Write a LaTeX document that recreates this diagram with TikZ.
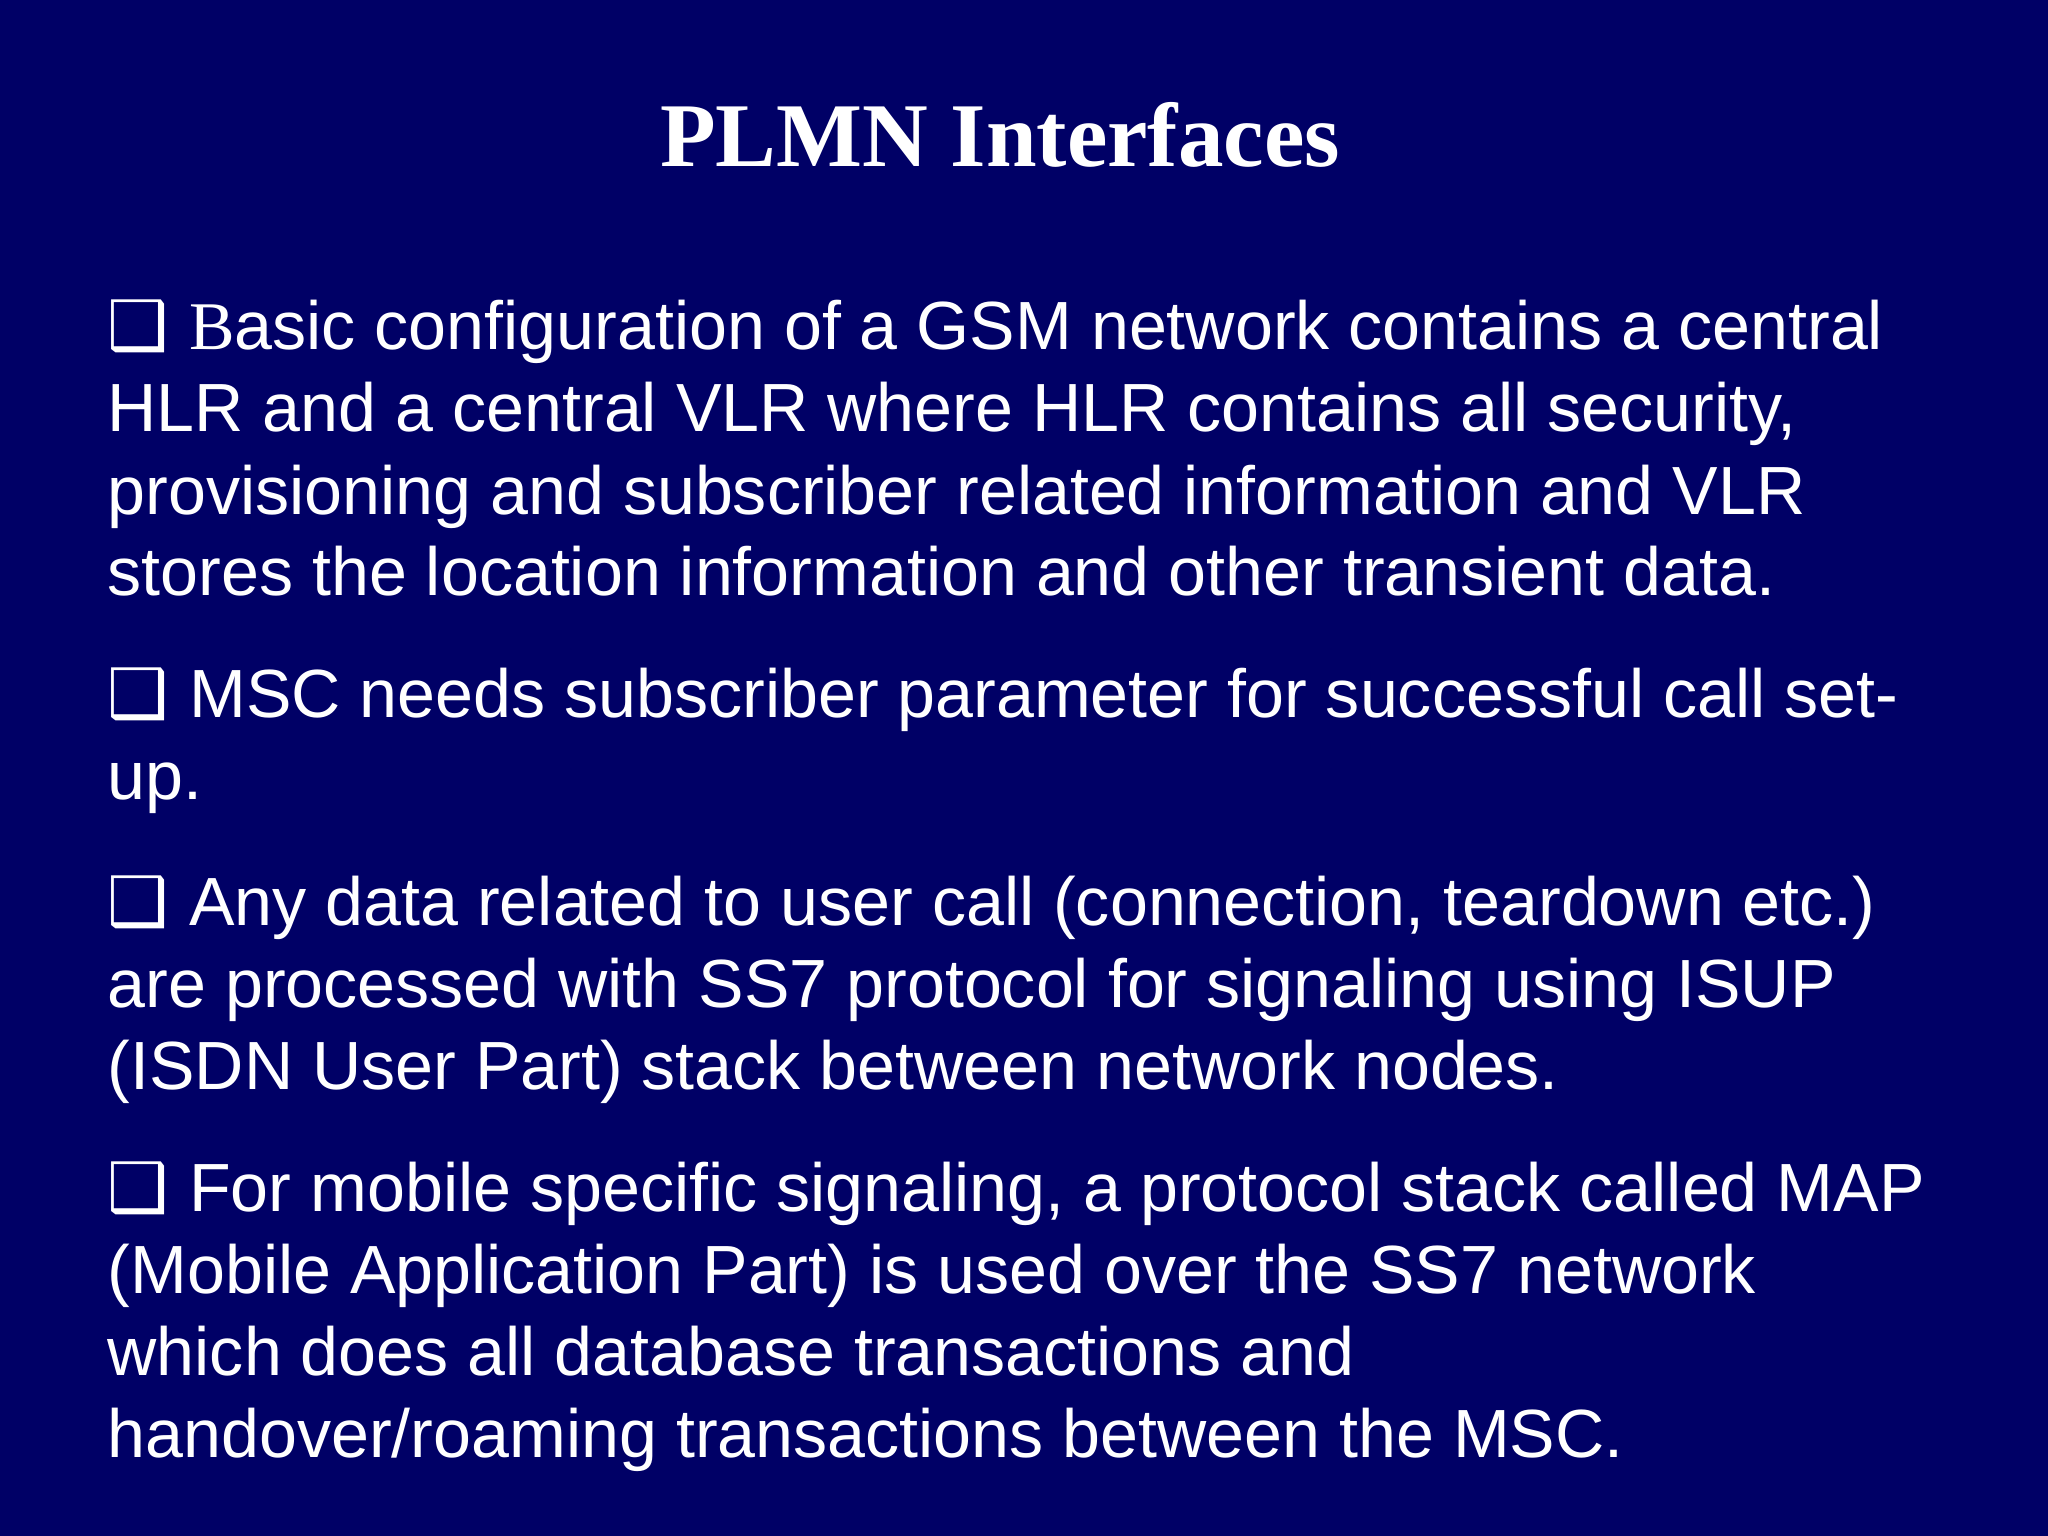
\documentclass[tikz,border=0pt]{standalone}
\usepackage{fontspec}
\setmainfont{Liberation Sans}
\newfontfamily\titlefont{Liberation Serif}
\newfontfamily\symfont{DejaVu Sans}
\definecolor{bg}{RGB}{0,0,102}
\begin{document}
\begin{tikzpicture}
\fill[bg] (0,0) rectangle (20.48,-15.36);
\useasboundingbox (0,0) rectangle (20.48,-15.36);
\tikzset{ln/.style={anchor=base west,inner sep=0pt,text=white,font=\fontsize{19.4}{22}\selectfont}}
\newcommand{\bx}{{\symfont ❑}\hspace{0.3em}}
\node[anchor=base,text=white,font=\titlefont\bfseries\fontsize{25.9}{30}\selectfont] (title) at (10.0,-1.67) {PLMN Interfaces};
% paragraph 1
\node[ln] (a1) at (1.07,-3.50) {\bx{\titlefont B}asic configuration of a GSM network contains a central};
\node[ln] (a2) at (1.07,-4.32) {HLR and a central VLR where HLR contains all security,};
\node[ln] (a3) at (1.07,-5.14) {provisioning and subscriber related information and VLR};
\node[ln] (a4) at (1.07,-5.96) {stores the location information and other transient data.};
% paragraph 2
\node[ln] (b1) at (1.07,-7.18) {\bx MSC needs subscriber parameter for successful call set-};
\node[ln] (b2) at (1.07,-8.00) {up.};
% paragraph 3
\node[ln] (c1) at (1.07,-9.25) {\bx Any data related to user call (connection, teardown etc.)};
\node[ln] (c2) at (1.07,-10.07) {are processed with SS7 protocol for signaling using ISUP};
\node[ln] (c3) at (1.07,-10.89) {(ISDN User Part) stack between network nodes.};
% paragraph 4
\node[ln] (d1) at (1.07,-12.11) {\bx For mobile specific signaling, a protocol stack called MAP};
\node[ln] (d2) at (1.07,-12.93) {(Mobile Application Part) is used over the SS7 network};
\node[ln] (d3) at (1.07,-13.75) {which does all database transactions and};
\node[ln] (d4) at (1.07,-14.57) {handover/roaming transactions between the MSC.};
\end{tikzpicture}
\end{document}
